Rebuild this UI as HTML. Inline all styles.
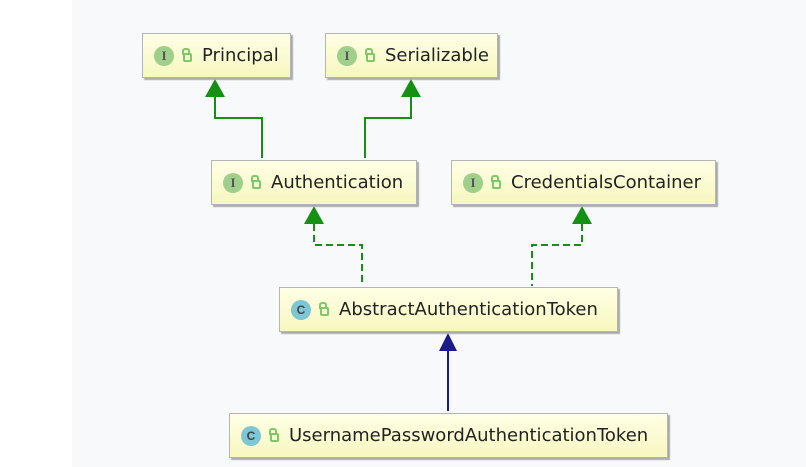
<!DOCTYPE html>
<html><head><meta charset="utf-8"><style>
body{margin:0;width:806px;height:467px;overflow:hidden;background:#fff;font-family:"DejaVu Sans","Liberation Sans",sans-serif;position:relative}
.bg{position:absolute;left:72px;top:0;width:734px;height:467px;background:#f7f9fb}
.box{position:absolute;box-sizing:border-box;height:45px;border:1px solid #b5b5b5;background:linear-gradient(#ffffe6,#f7f7c0);box-shadow:2px 2px 1px #aaa;display:flex;align-items:center;padding-left:11px;font-size:18px;color:#222;white-space:nowrap}
.ic{width:20px;height:20px;border-radius:50%;background:#9fcf8a;color:#555;font:bold 13px "Liberation Serif",serif;display:flex;align-items:center;justify-content:center;margin-right:9px}
.ic.c{background:#7cc7d3;font:bold 12px "Liberation Sans",sans-serif;color:#444}
.lk{width:9px;height:9px;border:2px solid #7ec86a;border-radius:2px;box-sizing:border-box;margin-right:10px;margin-top:4px;position:relative}
.lk:before{content:"";position:absolute;left:-3px;top:-7px;width:4px;height:5px;border:2px solid #7ec86a;border-bottom:none;border-radius:3px 3px 0 0}
svg{position:absolute;left:0;top:0}
</style></head><body>
<div class="bg"></div>
<svg width="806" height="467">
<g fill="none" stroke="#159015" stroke-width="2">
<polyline points="215,96 215,118 262,118 262,158"/>
<polyline points="411,96 411,118 365,118 365,158"/>
<g stroke-dasharray="7,4">
<polyline points="314,224 314,245 362,245 362,286"/>
<polyline points="582,224 582,245 532,245 532,286"/>
</g></g>
<g fill="#159015">
<polygon points="215,79 205,97 225,97"/>
<polygon points="411,79 401,97 421,97"/>
<polygon points="314,206 304,224 324,224"/>
<polygon points="582,206 572,224 592,224"/>
</g>
<line x1="448" y1="350" x2="448" y2="411" stroke="#1a1a8c" stroke-width="2"/>
<polygon points="448,333 439,351 457,351" fill="#1a1a8c"/>
</svg>
<div class="box" style="left:142px;top:33px;width:149px"><span class="ic">I</span><span class="lk"></span>Principal</div>
<div class="box" style="left:325px;top:33px;width:173px"><span class="ic">I</span><span class="lk"></span>Serializable</div>
<div class="box" style="left:211px;top:160px;width:206px"><span class="ic">I</span><span class="lk"></span>Authentication</div>
<div class="box" style="left:451px;top:160px;width:265px"><span class="ic">I</span><span class="lk"></span>CredentialsContainer</div>
<div class="box" style="left:279px;top:287px;width:339px"><span class="ic c">C</span><span class="lk"></span>AbstractAuthenticationToken</div>
<div class="box" style="left:229px;top:413px;width:439px"><span class="ic c">C</span><span class="lk"></span>UsernamePasswordAuthenticationToken</div>
</body></html>
